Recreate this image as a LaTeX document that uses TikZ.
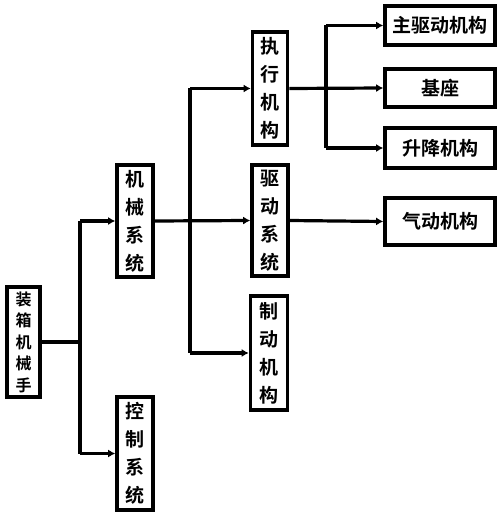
\documentclass[tikz,border=0pt]{standalone}
\usepackage{fontspec}
\newfontfamily\cjk{Noto Sans CJK SC}[BoldFont={Noto Sans CJK SC Bold}]
\usetikzlibrary{arrows.meta}
\begin{document}
\begin{tikzpicture}[x=1pt,y=-1pt,
  box/.style={draw,line width=3.6pt,inner sep=0pt,align=center,font=\cjk\bfseries\fontsize{19}{28}\selectfont},
  vbox/.style={box,minimum width=36pt,minimum height=112pt},
  hbox/.style={box,minimum width=110pt,minimum height=39pt},
  conn/.style={line width=3.2pt},
  arr/.style={conn,-{Latex[length=7pt,width=8pt]}}]
\useasboundingbox (0,0) rectangle (500,518);
\node[box,minimum width=33pt,minimum height=110pt,font=\cjk\bfseries\fontsize{16}{21.5}\selectfont] (root) at (23.5,342) {装\\箱\\机\\械\\手};
\node[vbox] (mech) at (135,221) {机\\械\\系\\统};
\node[vbox,minimum height=113pt] (ctrl) at (135,453.5) {控\\制\\系\\统};
\node[vbox,minimum width=35pt,minimum height=113pt] (exec) at (270,88.5) {执\\行\\机\\构};
\node[vbox,minimum height=111pt] (drive) at (270,220.5) {驱\\动\\系\\统};
\node[vbox,minimum width=37pt,minimum height=114pt] (brake) at (269,353) {制\\动\\机\\构};
\node[hbox] (m1) at (440,25.5) {主驱动机构};
\node[hbox,minimum height=38pt] (base) at (440,88) {基座};
\node[hbox,minimum height=40pt] (lift) at (440,148) {升降机构};
\node[hbox,minimum height=47pt] (pneu) at (440,221.5) {气动机构};
% trunk from root
\coordinate (j0) at (80,342);
\coordinate (j0t) at (80,221);
\coordinate (j0b) at (80,453.5);
\draw[conn] (root.east) -- (j0);
\draw[conn] (j0t) -- (j0b);
\draw[arr] (j0t) -- (mech.west);
\draw[arr] (j0b) -- (ctrl.west);
% from mech
\coordinate (j1t) at (190,88.5);
\coordinate (j1b) at (190,353);
\draw[arr] (mech.east) -- (drive.west);
\draw[conn] (j1t) -- (j1b);
\draw[arr] (j1t) -- (exec.west);
\draw[arr] (j1b) -- (brake.west);
% from exec
\coordinate (j2t) at (326,25.5);
\coordinate (j2b) at (326,148);
\draw[arr] (exec.east) -- (base.west);
\draw[conn] (j2t) -- (j2b);
\draw[arr] (j2t) -- (m1.west);
\draw[arr] (j2b) -- (lift.west);
% from drive
\draw[arr] (drive.east) -- (pneu.west);
\end{tikzpicture}
\end{document}
